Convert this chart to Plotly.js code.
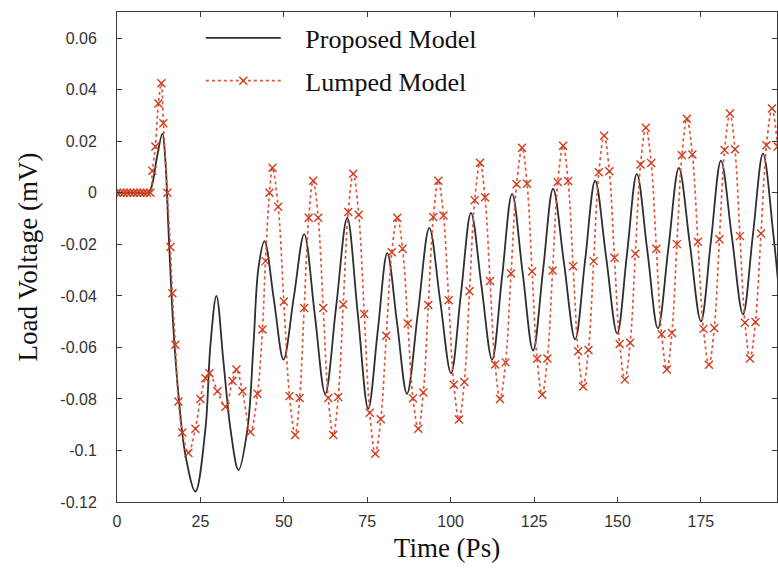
<!DOCTYPE html>
<html>
<head>
<meta charset="utf-8">
<script src="https://cdn.plot.ly/plotly-3.0.1.min.js"></script>
<style>html,body{margin:0;padding:0;background:#fff;}#chart{width:778px;height:575px;}</style>
</head>
<body>
<div id="chart"></div>
<script>
// Proposed Model (black solid line): time in ps, voltage in mV
const proposedTime = [0, 3, 6, 9.4, 10.5, 12.0, 13.6, 14.5, 15.4, 16.9, 18.4, 20.5, 23.5, 26.5, 28.0, 29.8, 31.9, 34.0, 36.4, 39.1, 40.9, 42.4, 44.2,
  47.05, 49.9, 53.0, 56.1, 59.25, 62.4, 65.7, 69.0, 72.15, 75.3, 78.15, 81.0, 83.95, 86.9, 90.25, 93.6, 96.85, 100.1, 103.1, 106.1,
  109.25, 112.4, 115.4, 118.4, 121.55, 124.7, 127.7, 130.7, 134.0, 137.3, 140.3, 143.3, 146.6, 149.9, 152.85, 155.8, 158.95, 162.1,
  165.25, 168.4, 171.7, 175.0, 178.0, 181.0, 184.3, 187.6, 190.6, 193.6, 196.7, 198.5];
const proposedVolt = [0, 0, 0, 0, 0.003, 0.014, 0.023, 0.0125, -0.0136, -0.0526, -0.078, -0.1017, -0.116, -0.0916, -0.059, -0.040, -0.0655, -0.0916, -0.1076, -0.0916, -0.059, -0.029, -0.0187,
  -0.0417, -0.0647, -0.0404, -0.016, -0.047, -0.078, -0.0439, -0.0097, -0.0468, -0.0838, -0.0536, -0.0234, -0.0507, -0.078, -0.0458, -0.0136, -0.0418, -0.070, -0.0389, -0.0078,
  -0.0363, -0.0647, -0.0326, -0.0004, -0.0308, -0.0612, -0.0298, 0.0016, -0.0277, -0.0569, -0.0261, 0.0047, -0.025, -0.0546, -0.0236, 0.0074, -0.0226, -0.0526,
  -0.0215, 0.0097, -0.0201, -0.0499, -0.0187, 0.0125, -0.0174, -0.0472, -0.016, 0.0152, -0.016, -0.04];

// Lumped Model (red dotted line with x markers)
const lumpedTime = [0, 1, 2, 3, 4, 5, 6, 7, 8, 9, 10, 10.6, 11.5, 12.4, 13.3, 13.9, 15.1, 16.0, 16.6, 17.5, 18.4, 19.6, 21.4, 23.5, 25.0, 26.5, 27.7,
  30.1, 32.5, 34.6, 35.8, 37.6, 40.0, 42.1, 43.6, 44.5, 45.7, 46.6,
  48.3, 50.0, 51.7, 53.4, 54.75, 56.1, 57.45, 58.8, 60.3, 61.8, 63.3, 64.8, 66.3, 67.8, 69.3, 70.8,
  72.45, 74.1, 75.75, 77.4, 79.05, 80.7, 82.35, 84.0, 85.6, 87.15, 88.7, 90.3, 91.8, 93.3, 94.8, 96.3,
  97.85, 99.4, 100.95, 102.5, 104.1, 105.65, 107.2, 108.8, 110.3, 111.8, 113.3, 114.8, 116.45, 118.1, 119.75, 121.4,
  122.9, 124.4, 125.9, 127.4, 129.0, 130.55, 132.1, 133.7, 135.2, 136.7, 138.2, 139.7, 141.3, 142.85, 144.4, 146.0,
  147.55, 149.1, 150.65, 152.2, 153.8, 155.35, 156.9, 158.5, 160.1, 161.65, 163.2, 164.8, 166.3, 167.8, 169.3, 170.8,
  172.45, 174.1, 175.75, 177.4, 179.0, 180.55, 182.1, 183.7, 185.2, 186.7, 188.2, 189.7, 191.35, 193.0, 194.65, 196.3, 198.0];
const lumpedVolt = [0, 0, 0, 0, 0, 0, 0, 0, 0, 0, 0, 0.0086, 0.018, 0.0347, 0.0425, 0.027, 0, -0.021, -0.039, -0.059, -0.081, -0.093, -0.101, -0.0916, -0.080, -0.072, -0.070,
  -0.077, -0.083, -0.073, -0.0686, -0.077, -0.0928, -0.078, -0.053, -0.0265, 0, 0.0097,
  -0.0054, -0.0422, -0.0789, -0.094, -0.0796, -0.0447, -0.0097, 0.0047, -0.0097, -0.0447, -0.0796, -0.094, -0.0792, -0.0433, -0.0074, 0.0074,
  -0.0085, -0.047, -0.0854, -0.1013, -0.0879, -0.0555, -0.0231, -0.0097, -0.0217, -0.0507, -0.0797, -0.0916, -0.0775, -0.0435, -0.0094, 0.0047,
  -0.0088, -0.0417, -0.0745, -0.088, -0.0734, -0.0382, -0.0029, 0.0117, -0.0017, -0.0342, -0.0666, -0.080, -0.0658, -0.0313, 0.0033, 0.0175,
  0.0035, -0.0305, -0.0644, -0.0784, -0.0643, -0.0301, 0.0042, 0.0183, 0.0046, -0.0285, -0.0615, -0.0752, -0.061, -0.0265, 0.008, 0.0222,
  0.0084, -0.0252, -0.0587, -0.0725, -0.0582, -0.0236, 0.011, 0.0253, 0.0116, -0.0217, -0.0549, -0.0686, -0.0544, -0.0199, 0.0146, 0.0288,
  0.0149, -0.019, -0.0528, -0.0667, -0.0525, -0.018, 0.0166, 0.0308, 0.0169, -0.0168, -0.0504, -0.0643, -0.0501, -0.0158, 0.0185, 0.0327, 0.018];

const xTickVals = [0, 25, 50, 75, 100, 125, 150, 175];
const xTickText = ['0', '25', '50', '75', '100', '125', '150', '175'];
const yTickVals = [0.06, 0.04, 0.02, 0, -0.02, -0.04, -0.06, -0.08, -0.1, -0.12];
const yTickText = ['0.06', '0.04', '0.02', '0', '-0.02', '-0.04', '-0.06', '-0.08', '-0.1', '-0.12'];

const serif = 'Liberation Serif, Times New Roman, serif';
const traces = [
  {
    x: proposedTime, y: proposedVolt, name: '\u00a0\u00a0\u00a0Proposed Model', type: 'scatter', mode: 'lines',
    line: {color: '#2e2e2e', width: 1.8, shape: 'spline', smoothing: 1},
    legendgroup: 'a'
  },
  {
    x: lumpedTime, y: lumpedVolt, name: '\u00a0\u00a0\u00a0Lumped Model', type: 'scatter', mode: 'lines+markers',
    line: {color: '#e0563a', width: 1.7, dash: 'dot', shape: 'spline', smoothing: 1},
    marker: {symbol: 'x-thin-open', size: 8, color: '#d03c1c', line: {width: 1.4, color: '#d03c1c'}},
    legendgroup: 'b'
  }
];

const axisCommon = {
  showgrid: false, zeroline: false, showline: true, linecolor: '#3a3a3a', linewidth: 1,
  mirror: 'ticks', ticks: 'inside', ticklen: 5, tickcolor: '#3a3a3a', tickwidth: 1,
  tickfont: {family: 'Liberation Sans, Arial, sans-serif', size: 16, color: '#333'}
};

const layout = {
  width: 778, height: 575,
  margin: {l: 117, r: 1, t: 12, b: 73},
  paper_bgcolor: '#fff', plot_bgcolor: '#fff',
  showlegend: true,
  legend: {
    x: 0.127, y: 0.995, xanchor: 'left', yanchor: 'top',
    bgcolor: 'rgba(0,0,0,0)', borderwidth: 0,
    font: {family: serif, size: 26, color: '#111'},
    itemwidth: 75, traceorder: 'grouped', tracegroupgap: 6
  },
  xaxis: Object.assign({}, axisCommon, {
    range: [0, 197.8], tickmode: 'array', tickvals: xTickVals, ticktext: xTickText,
    ticklabelstandoff: 5,
    title: {text: 'Time (Ps)', font: {family: serif, size: 27, color: '#111'}, standoff: 8}
  }),
  yaxis: Object.assign({}, axisCommon, {
    range: [-0.12, 0.0702], tickmode: 'array', tickvals: yTickVals, ticktext: yTickText,
    ticklabelstandoff: 16,
    title: {text: 'Load Voltage (mV)', font: {family: serif, size: 27, color: '#111'}, standoff: 14}
  })
};

Plotly.newPlot('chart', traces, layout, {displayModeBar: false, staticPlot: true});
</script>
</body>
</html>
